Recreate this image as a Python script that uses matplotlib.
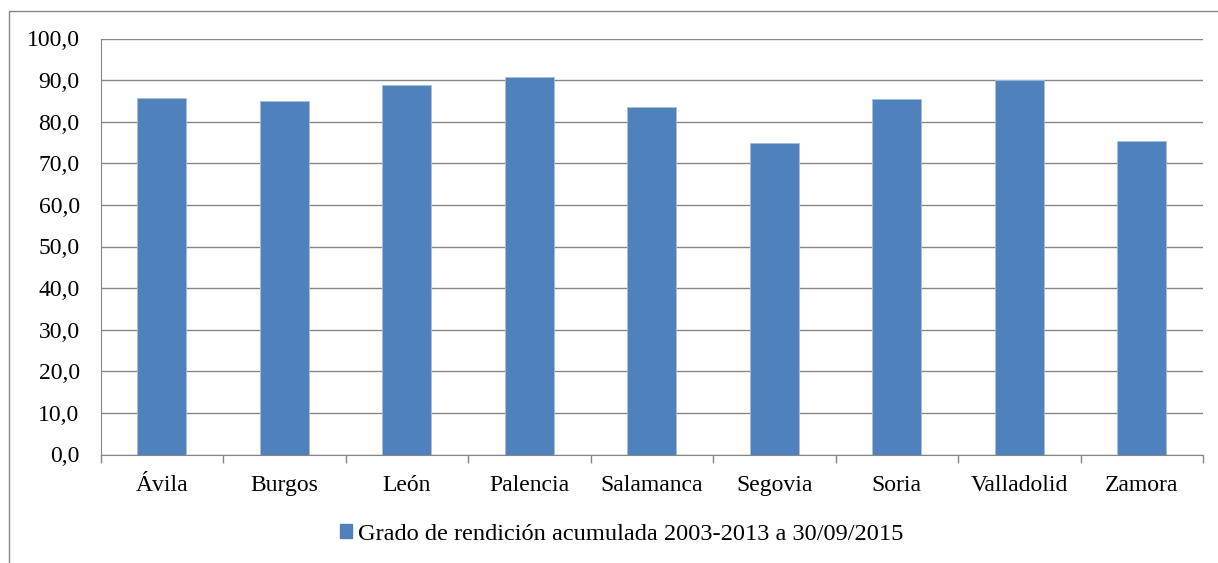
import matplotlib
matplotlib.use("Agg")
import matplotlib.pyplot as plt
from matplotlib.patches import Rectangle, Patch

provincias = ["Ávila", "Burgos", "León", "Palencia", "Salamanca", "Segovia", "Soria", "Valladolid", "Zamora"]
grado = [85.7, 85.0, 88.8, 90.7, 83.5, 75.0, 85.5, 90.1, 75.4]
serie = "Grado de rendición acumulada 2003-2013 a 30/09/2015"
yticks = [0, 10, 20, 30, 40, 50, 60, 70, 80, 90, 100]
ytick_labels = [f"{v:.1f}".replace(".", ",") for v in yticks]

W, H = 1218, 563
plt.rcParams['font.family'] = ['Liberation Serif', 'DejaVu Serif']
fig = plt.figure(figsize=(W / 100, H / 100), dpi=100)

# outer chart border (extends past right/bottom of image)
fig.patches.append(Rectangle((8.5 / W, -0.1), 1.2, (H - 11) / H + 0.1,
                             transform=fig.transFigure, fill=False,
                             edgecolor="#868686", linewidth=1.0))

ax = fig.add_axes([100.5 / W, (H - 454.5) / H, (1203 - 100.5) / W, (454.5 - 38.5) / H])
color = "#4F81BD"
x = list(range(len(provincias)))
ax.bar(x, grado, width=0.4, color=color, edgecolor="#A6BDDB", linewidth=0.6, zorder=3)

FS = 17
ax.set_xlim(-0.5, len(provincias) - 0.5)
ax.set_ylim(0, 100)
ax.set_yticks(yticks)
ax.set_yticklabels(ytick_labels, fontsize=FS)
ax.set_xticks(x)
ax.set_xticklabels(provincias, fontsize=FS)
ax.tick_params(axis="x", length=0, pad=15)
ax.tick_params(axis="y", length=0, pad=15)
# boundary tick marks
ax.set_xticks([i - 0.5 for i in range(len(provincias) + 1)], minor=True)
ax.tick_params(axis="x", which="minor", length=6, color="#868686", width=1)

ax.grid(axis="y", color="#868686", linewidth=1.0, zorder=0)
for s in ["top", "right"]:
    ax.spines[s].set_visible(False)
ax.spines["left"].set_color("#868686")
ax.spines["bottom"].set_color("#868686")

fig.legend(handles=[Patch(facecolor=color, edgecolor=color)], labels=[serie],
           loc="center", bbox_to_anchor=(622 / W, (H - 534) / H), frameon=False,
           fontsize=17.6, handlelength=0.5, handleheight=0.5, handletextpad=0.25)

fig.savefig("out.png", dpi=100)
